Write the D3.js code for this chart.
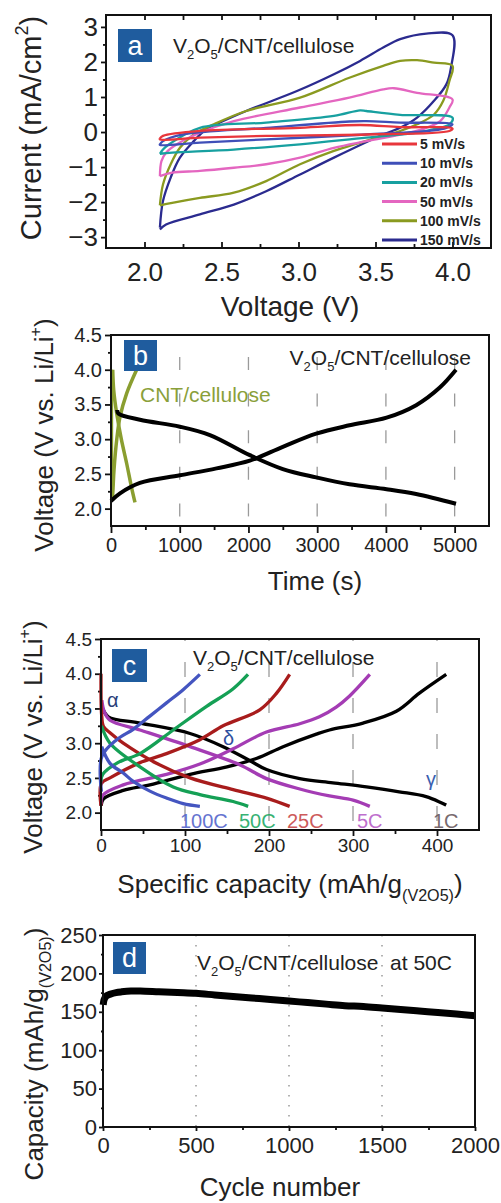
<!DOCTYPE html>
<html>
<head>
<meta charset="utf-8">
<script src="https://cdn.jsdelivr.net/npm/d3@7"></script>
<style>
  body { margin: 0; background: #fff; }
  svg { display: block; font-family: "Liberation Sans", Arial, sans-serif; }
</style>
</head>
<body>
<script>
// ---------- data: panel a (cyclic voltammetry, [V, mA/cm2]) ----------
var cvRates = ["5 mV/s", "10 mV/s", "20 mV/s", "50 mV/s", "100 mV/s", "150 mV/s"];
var cvColors = ["#e8363c", "#3f4fb8", "#17a0a0", "#e466c0", "#8a9a20", "#2b2b8f"];
var cv5 = [[2.10,-0.18],[2.12,-0.11],[2.36,0.03],[3.01,0.12],[3.40,0.20],[3.66,0.14],[4.00,0.10],[3.98,0.03],[3.44,-0.07],[2.79,-0.11],[2.36,-0.16],[2.10,-0.21],[2.10,-0.18]];
var cv10 = [[2.10,-0.35],[2.12,-0.26],[2.25,-0.07],[2.79,0.12],[3.33,0.30],[3.44,0.31],[3.66,0.27],[4.00,0.22],[3.96,0.12],[3.88,0.05],[3.44,-0.07],[2.79,-0.21],[2.36,-0.30],[2.10,-0.37],[2.10,-0.35]];
var cv20 = [[2.10,-0.62],[2.12,-0.50],[2.16,-0.35],[2.36,0.12],[2.79,0.27],[3.23,0.46],[3.40,0.62],[3.44,0.60],[3.66,0.49],[4.00,0.41],[3.98,0.22],[3.88,0.08],[3.77,-0.02],[3.44,-0.16],[3.01,-0.35],[2.58,-0.50],[2.18,-0.59],[2.10,-0.62]];
var cv50 = [[2.10,-1.26],[2.11,-0.83],[2.14,-0.59],[2.21,-0.35],[2.36,-0.02],[2.58,0.31],[3.01,0.70],[3.33,0.98],[3.55,1.22],[3.62,1.25],[3.77,1.12],[4.00,0.93],[3.98,0.70],[3.92,0.31],[3.83,0.12],[3.72,-0.02],[3.44,-0.26],[3.23,-0.45],[3.01,-0.73],[2.79,-0.92],[2.58,-1.02],[2.36,-1.11],[2.18,-1.16],[2.10,-1.26]];
var cv100 = [[2.10,-2.09],[2.12,-1.50],[2.17,-0.92],[2.23,-0.45],[2.32,-0.07],[2.45,0.22],[2.66,0.60],[3.01,0.98],[3.33,1.55],[3.55,1.89],[3.66,2.03],[3.77,2.05],[3.88,1.98],[4.00,1.89],[3.98,1.46],[3.94,0.89],[3.88,0.50],[3.77,0.22],[3.66,0.03],[3.55,-0.11],[3.23,-0.54],[3.01,-0.92],[2.79,-1.40],[2.58,-1.73],[2.36,-1.88],[2.18,-2.02],[2.10,-2.09]];
var cv150 = [[2.10,-2.73],[2.12,-1.97],[2.17,-1.30],[2.23,-0.73],[2.32,-0.26],[2.40,0.08],[2.49,0.27],[2.66,0.60],[2.99,1.17],[3.23,1.65],[3.40,2.03],[3.55,2.41],[3.66,2.65],[3.83,2.81],[4.00,2.76],[3.99,1.84],[3.96,1.36],[3.88,0.89],[3.77,0.41],[3.66,0.12],[3.55,-0.07],[3.23,-0.73],[3.01,-1.21],[2.79,-1.69],[2.58,-2.07],[2.36,-2.35],[2.14,-2.64],[2.10,-2.78]];
var cvLoops = [cv5, cv10, cv20, cv50, cv100, cv150];
var xTicksA = [2.0, 2.5, 3.0, 3.5, 4.0];
var yTicksA = [-3, -2, -1, 0, 1, 2, 3];

// ---------- data: panel b (voltage vs time) ----------
var tCharge = [0, 131, 421, 1003, 1536, 2020, 2500, 2985, 3470, 4010, 4440, 4780, 5020];
var vCharge = [2.11, 2.22, 2.37, 2.48, 2.58, 2.69, 2.89, 3.08, 3.20, 3.31, 3.49, 3.74, 4.00];
var tDis = [90, 107, 421, 1003, 1439, 2020, 2500, 2985, 3470, 4010, 4440, 5020];
var vDis = [3.42, 3.37, 3.28, 3.18, 3.06, 2.77, 2.57, 2.45, 2.35, 2.28, 2.21, 2.07];
var tCntCharge = [20, 30, 44, 83, 131, 228, 373];
var vCntCharge = [2.12, 2.30, 2.56, 2.99, 3.32, 3.66, 4.00];
var tCntDis = [25, 40, 83, 150, 228, 300, 349];
var vCntDis = [4.00, 3.70, 3.37, 3.00, 2.65, 2.30, 2.09];
var tCntStep = [20, 20];
var vCntStep = [2.12, 4.00];
var xTicksB = [0, 1000, 2000, 3000, 4000, 5000];
var yTicksB = [2.0, 2.5, 3.0, 3.5, 4.0, 4.5];

// ---------- data: panel c (voltage vs capacity, [mAh/g, V]) ----------
var cRates = ["100C", "50C", "25C", "5C", "1C"];
var cColors = ["#4455c0", "#15a055", "#a81c1c", "#a43cb4", "#000000"];
var c100Charge = [[0.5,2.30],[1,2.81],[18.6,3.05],[38.4,3.20],[58.2,3.39],[78,3.58],[97.8,3.77],[117.7,3.99]];
var c100Dis = [[0.8,2.95],[10.7,2.71],[26.5,2.57],[38.4,2.45],[58.2,2.31],[78,2.21],[97.8,2.13],[117.7,2.09]];
var c50Charge = [[0,2.45],[2,2.55],[20,2.72],[46.4,2.85],[86,3.19],[125.7,3.53],[157,3.78],[175,3.99]];
var c50Dis = [[0.5,3.25],[10.7,3.00],[46.4,2.66],[86,2.37],[117.7,2.26],[157.3,2.16],[175.2,2.09]];
var c25Charge = [[0,2.10],[0.5,2.42],[10.7,2.50],[46.4,2.72],[78,2.85],[117.7,3.05],[145.4,3.25],[189,3.48],[209,3.72],[224.6,3.99]];
var c25Dis = [[0,4.00],[0.8,3.40],[3,3.24],[10.7,3.15],[26.5,3.00],[66,2.71],[106,2.50],[157.3,2.33],[197,2.21],[224.6,2.09]];
var c5Charge = [[0,2.12],[2,2.25],[26.5,2.40],[78,2.55],[117.7,2.70],[157.3,2.92],[197,3.16],[236.6,3.28],[260,3.38],[280,3.52],[296,3.68],[320,3.99]];
var c5Dis = [[1,3.62],[4,3.45],[10.7,3.33],[46.4,3.19],[106,2.95],[165,2.69],[197,2.49],[236.6,2.34],[272,2.24],[300,2.18],[320,2.09]];
var c1Charge = [[0,2.10],[3,2.20],[26.5,2.32],[58.2,2.40],[106,2.55],[150,2.66],[185,2.78],[216.8,2.95],[256.4,3.13],[272,3.19],[312,3.29],[351.6,3.46],[379,3.72],[411,3.99]];
var c1Dis = [[2,3.50],[8.7,3.38],[46.4,3.29],[106,3.14],[145.4,2.95],[177,2.75],[197,2.62],[236.6,2.49],[276,2.43],[316,2.37],[355,2.30],[387,2.23],[411,2.11]];
var cCurves = [[c100Charge, c100Dis], [c50Charge, c50Dis], [c25Charge, c25Dis], [c5Charge, c5Dis], [c1Charge, c1Dis]];
var xTicksC = [0, 100, 200, 300, 400];
var yTicksC = [2.0, 2.5, 3.0, 3.5, 4.0, 4.5];

// ---------- data: panel d (cycling at 50C) ----------
var cycles = [1, 5, 10, 20, 40, 70, 100, 150, 200, 300, 400, 500, 600, 700, 800, 900, 1000, 1100, 1200, 1300, 1400, 1500, 1600, 1700, 1800, 1900, 2000];
var capacity = [159, 165, 168, 171, 173, 175, 176, 177, 177, 176, 175, 174, 172, 170, 168, 166, 164, 162, 160, 158, 157, 155, 153, 151, 149, 147, 145];
var xTicksD = [0, 500, 1000, 1500, 2000];
var yTicksD = [0, 50, 100, 150, 200, 250];

var W = 501, H = 1203;
var svg = d3.select("body").append("svg").attr("width", W).attr("height", H);
svg.append("rect").attr("width", W).attr("height", H).attr("fill", "#fff");

// text with sub/superscripts; parts = [[text, "n"|"sub"|"sup"], ...]
function rich(t, parts, fs) {
  var shift = 0;
  parts.forEach(function(p) {
    var target = p[1] == "sub" ? fs * 0.3 : (p[1] == "sup" ? -fs * 0.45 : 0);
    t.append("tspan")
      .attr("dy", target - shift)
      .attr("font-size", p[1] == "n" ? fs : fs * 0.62)
      .text(p[0]);
    shift = target;
  });
  return t;
}

var v2o5 = [["V","n"],["2","sub"],["O","n"],["5","sub"],["/CNT/cellulose","n"]];

function makeAxes(c) {
  var x = d3.scaleLinear().domain(c.xd).range([c.l, c.r]);
  var y = d3.scaleLinear().domain(c.yd).range([c.b, c.t]);

  // minor ticks
  svg.append("g").attr("transform", "translate(0," + c.b + ")")
    .call(d3.axisBottom(x).tickValues(c.xMinor).tickSize(c.xMinorLen).tickFormat(""))
    .call(function(g) { g.select(".domain").remove(); });
  svg.append("g").attr("transform", "translate(" + c.l + ",0)")
    .call(d3.axisLeft(y).tickValues(c.yMinor).tickSize(c.yMinorLen).tickFormat(""))
    .call(function(g) { g.select(".domain").remove(); });

  // major ticks + labels
  var gx = svg.append("g").attr("transform", "translate(0," + c.b + ")")
    .call(d3.axisBottom(x).tickValues(c.xTicks).tickSize(c.xTickLen).tickPadding(c.xPad).tickFormat(c.xFmt))
    .call(function(g) { g.select(".domain").remove(); });
  var gy = svg.append("g").attr("transform", "translate(" + c.l + ",0)")
    .call(d3.axisLeft(y).tickValues(c.yTicks).tickSize(c.yTickLen).tickPadding(c.yPad).tickFormat(c.yFmt))
    .call(function(g) { g.select(".domain").remove(); });
  [gx, gy].forEach(function(g) {
    g.attr("font-family", c.tickFont || null).attr("font-size", c.tickSize);
    g.selectAll("text").attr("fill", "#222");
  });
  svg.selectAll(".tick line").attr("stroke", "#111").attr("stroke-width", 1.8);

  return { x: x, y: y };
}

function frame(c) {
  svg.append("rect")
    .attr("x", c.l).attr("y", c.t)
    .attr("width", c.r - c.l).attr("height", c.b - c.t)
    .attr("fill", "none").attr("stroke", "#111").attr("stroke-width", 2);
}

function tag(letter, x, y, w, h) {
  svg.append("rect").attr("x", x).attr("y", y).attr("width", w).attr("height", h).attr("fill", "#1f5c9e");
  svg.append("text").attr("x", x + w / 2).attr("y", y + h / 2 + 9)
    .attr("text-anchor", "middle").attr("font-size", 27).attr("fill", "#fff").text(letter);
}

function yTitle(parts, x, y, fs) {
  var t = svg.append("text").attr("transform", "translate(" + x + "," + y + ") rotate(-90)")
    .attr("text-anchor", "middle").attr("fill", "#222");
  rich(t, parts, fs);
}

function xTitle(parts, x, y, fs) {
  var t = svg.append("text").attr("x", x).attr("y", y).attr("text-anchor", "middle").attr("fill", "#222");
  rich(t, parts, fs);
}

// ================= panel a =================
var ca = {
  l: 106, r: 491, t: 15, b: 248, xd: [1.75, 4.25], yd: [-3.31, 3.34],
  xTicks: xTicksA, yTicks: yTicksA, xMinor: [2.25, 2.75, 3.25, 3.75], yMinor: [-2.5, -1.5, -0.5, 0.5, 1.5, 2.5],
  xTickLen: -6, xMinorLen: -4, yTickLen: 5, yMinorLen: 3, xPad: 15, yPad: 3,
  xFmt: d3.format(".1f"), yFmt: d3.format("d"), tickSize: 26
};
var pa = makeAxes(ca);
// ticks along the top edge
svg.append("g").attr("transform", "translate(0," + ca.t + ")")
  .call(d3.axisTop(pa.x).tickValues(xTicksA.concat(ca.xMinor)).tickSize(-5).tickFormat(""))
  .call(function(g) { g.select(".domain").remove(); })
  .selectAll("line").attr("stroke", "#111").attr("stroke-width", 1.8);

var lineA = d3.line().x(function(d) { return pa.x(d[0]); }).y(function(d) { return pa.y(d[1]); })
  .curve(d3.curveCatmullRom.alpha(0.5));
for (var i = cvLoops.length - 1; i >= 0; i--) {
  svg.append("path").datum(cvLoops[i]).attr("d", lineA)
    .attr("fill", "none").attr("stroke", cvColors[i]).attr("stroke-width", 2.3);
}
frame(ca);

cvRates.forEach(function(r, i) {
  var ly = 144 + i * 19.2;
  svg.append("line").attr("x1", 382).attr("x2", 417).attr("y1", ly).attr("y2", ly)
    .attr("stroke", cvColors[i]).attr("stroke-width", 3);
  svg.append("text").attr("x", 420).attr("y", ly + 5).attr("font-size", 14).attr("font-weight", "bold")
    .attr("fill", "#222").text(r);
});
tag("a", 118, 29, 34, 33);
rich(svg.append("text").attr("x", 173).attr("y", 53).attr("fill", "#222"), v2o5, 21);
xTitle([["Voltage (V)", "n"]], 290, 316, 28);
yTitle([["Current (mA/cm", "n"], ["2", "sup"], [")", "n"]], 41, 128, 29);

// ================= panel b =================
var cb = {
  l: 111, r: 489, t: 335, b: 526, xd: [0, 5500], yd: [1.75, 4.5],
  xTicks: xTicksB, yTicks: yTicksB, xMinor: [500, 1500, 2500, 3500, 4500], yMinor: [2.25, 2.75, 3.25, 3.75, 4.25],
  xTickLen: 7, xMinorLen: 4, yTickLen: 6, yMinorLen: 3, xPad: 5, yPad: 3,
  xFmt: d3.format("d"), yFmt: d3.format(".1f"), tickSize: 20
};
var pb = makeAxes(cb);
[1000, 2000, 3000, 4000, 5000].forEach(function(v) {
  svg.append("line").attr("x1", pb.x(v)).attr("x2", pb.x(v)).attr("y1", cb.t).attr("y2", cb.b)
    .attr("stroke", "#9a9a9a").attr("stroke-width", 1.3)
    .attr("stroke-dasharray", "13,23.6").attr("stroke-dashoffset", 14.6);
});
var lineB = d3.line().x(function(d) { return pb.x(d[0]); }).y(function(d) { return pb.y(d[1]); })
  .curve(d3.curveCatmullRom.alpha(0.5));
svg.append("path").datum(d3.zip(tCntStep, vCntStep)).attr("d", lineB)
  .attr("fill", "none").attr("stroke", "#8a9e30").attr("stroke-width", 1.6);
[[tCntCharge, vCntCharge], [tCntDis, vCntDis]].forEach(function(s) {
  svg.append("path").datum(d3.zip(s[0], s[1])).attr("d", lineB)
    .attr("fill", "none").attr("stroke", "#8a9e30").attr("stroke-width", 3.5);
});
[[tCharge, vCharge], [tDis, vDis]].forEach(function(s) {
  svg.append("path").datum(d3.zip(s[0], s[1])).attr("d", lineB)
    .attr("fill", "none").attr("stroke", "#000").attr("stroke-width", 4);
});
frame(cb);
tag("b", 124, 340, 33, 31);
rich(svg.append("text").attr("x", 471).attr("y", 365).attr("text-anchor", "end").attr("fill", "#222"), v2o5, 21);
svg.append("text").attr("x", 140).attr("y", 402).attr("font-size", 21).attr("fill", "#8aa03a").text("CNT/cellulose");
xTitle([["Time (s)", "n"]], 315, 590, 26);
yTitle([["Voltage (V vs. Li/Li", "n"], ["+", "sup"], [")", "n"]], 53, 435, 26);

// ================= panel c =================
var cc = {
  l: 101, r: 479, t: 639, b: 830, xd: [0, 450], yd: [1.75, 4.5],
  xTicks: xTicksC, yTicks: yTicksC, xMinor: [50, 150, 250, 350], yMinor: [2.25, 2.75, 3.25, 3.75, 4.25],
  xTickLen: 6, xMinorLen: 4, yTickLen: 6, yMinorLen: 3, xPad: 3, yPad: 3,
  xFmt: d3.format("d"), yFmt: d3.format(".1f"), tickSize: 19
};
var pc = makeAxes(cc);
[100, 200, 300, 400].forEach(function(v) {
  svg.append("line").attr("x1", pc.x(v)).attr("x2", pc.x(v)).attr("y1", cc.t).attr("y2", cc.b)
    .attr("stroke", "#9a9a9a").attr("stroke-width", 1.3)
    .attr("stroke-dasharray", "15,21").attr("stroke-dashoffset", 13);
});
var lineC = d3.line().x(function(d) { return pc.x(d[0]); }).y(function(d) { return pc.y(d[1]); })
  .curve(d3.curveCatmullRom.alpha(0.5));
for (var j = cCurves.length - 1; j >= 0; j--) {
  cCurves[j].forEach(function(s) {
    svg.append("path").datum(s).attr("d", lineC)
      .attr("fill", "none").attr("stroke", cColors[j]).attr("stroke-width", 3.3);
  });
}
frame(cc);
tag("c", 112, 649, 35, 33);
rich(svg.append("text").attr("x", 193).attr("y", 665).attr("fill", "#222"), v2o5, 21);
var cLabelX = [180, 239, 287, 357, 433];
var cLabelFill = ["#5566cc", "#22aa66", "#c84a4a", "#b860c8", "#6a5a60"];
cRates.forEach(function(r, i) {
  svg.append("text").attr("x", cLabelX[i]).attr("y", 828).attr("font-size", 20)
    .attr("fill", cLabelFill[i]).attr("opacity", 0.9).text(r);
});
svg.append("text").attr("x", 107).attr("y", 707).attr("font-size", 20).attr("fill", "#2b3f7a").text("α");
svg.append("text").attr("x", 223).attr("y", 745).attr("font-size", 20).attr("fill", "#3050a0").text("δ");
svg.append("text").attr("x", 426).attr("y", 786).attr("font-size", 20).attr("fill", "#3a5fb0").text("γ");
xTitle([["Specific capacity (mAh/g", "n"], ["(V2O5)", "sub"], [")", "n"]], 290, 893, 26);
yTitle([["Voltage (V vs. Li/Li", "n"], ["+", "sup"], [")", "n"]], 42, 737, 26);

// ================= panel d =================
var cd = {
  l: 103, r: 475, t: 935, b: 1127, xd: [0, 2000], yd: [0, 250],
  xTicks: xTicksD, yTicks: yTicksD, xMinor: [250, 750, 1250, 1750], yMinor: [25, 75, 125, 175, 225],
  xTickLen: 4, xMinorLen: 3, yTickLen: 4, yMinorLen: 2, xPad: 6, yPad: 2,
  xFmt: d3.format("d"), yFmt: d3.format("d"), tickSize: 22,
  tickFont: "'Liberation Sans Narrow', 'Liberation Sans', Arial, sans-serif"
};
var pd = makeAxes(cd);
[500, 1000, 1500].forEach(function(v) {
  svg.append("line").attr("x1", pd.x(v)).attr("x2", pd.x(v)).attr("y1", cd.t).attr("y2", cd.b)
    .attr("stroke", "#8a8a8a").attr("stroke-width", 1.3).attr("stroke-dasharray", "1.5,8.5");
});
var lineD = d3.line().x(function(d) { return pd.x(d[0]); }).y(function(d) { return pd.y(d[1]); })
  .curve(d3.curveCatmullRom.alpha(0.5));
svg.append("path").datum(d3.zip(cycles, capacity)).attr("d", lineD)
  .attr("fill", "none").attr("stroke", "#000").attr("stroke-width", 7);
frame(cd);
tag("d", 113, 942, 33, 32);
rich(svg.append("text").attr("x", 197).attr("y", 970).attr("fill", "#222"),
  v2o5.concat([["  at 50C", "n"]]), 21).attr("xml:space", "preserve");
xTitle([["Cycle number", "n"]], 280, 1196, 26);
yTitle([["Capacity (mAh/g", "n"], ["(V2O5)", "sub"], [")", "n"]], 43, 1054, 26);
</script>
</body>
</html>
